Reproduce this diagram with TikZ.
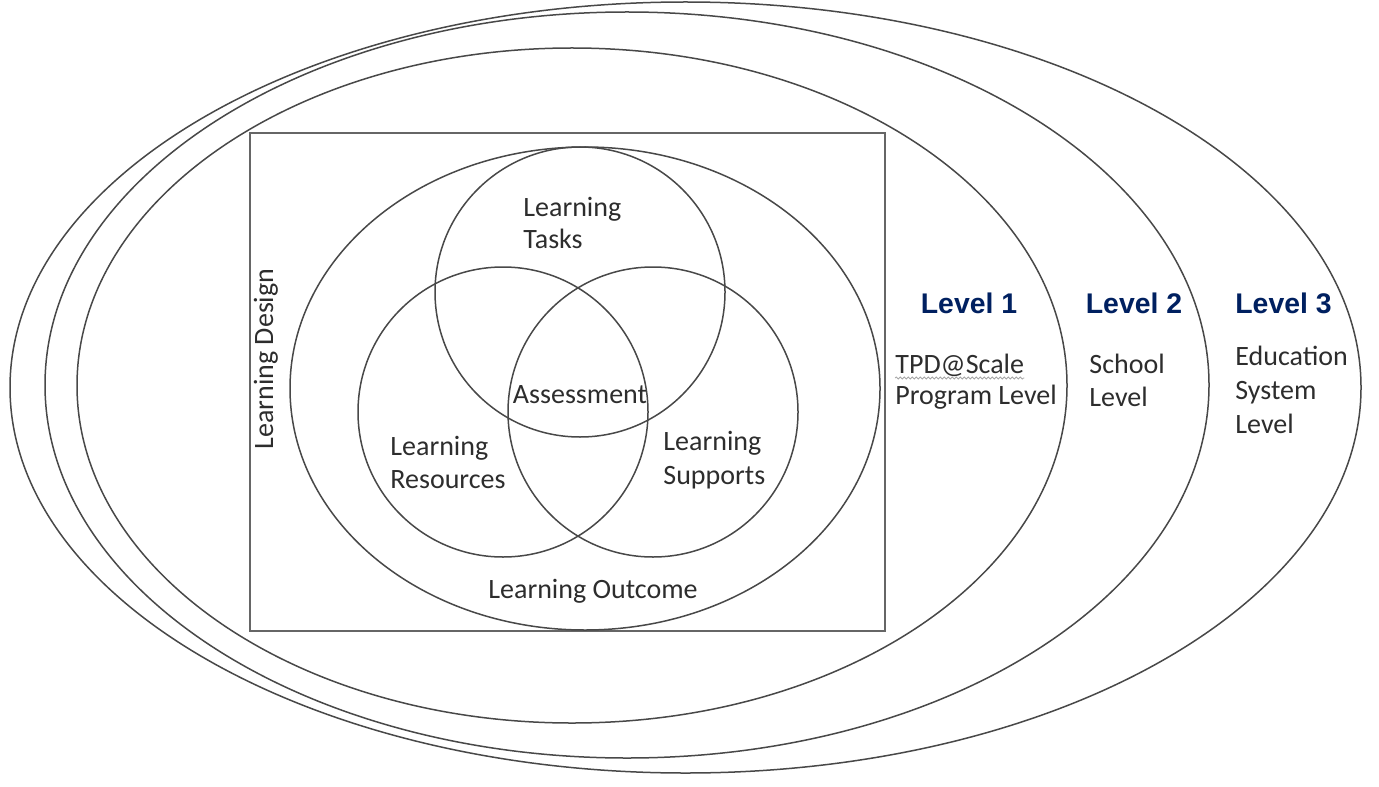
\documentclass[tikz,border=0pt]{standalone}
\usepackage{fontspec}
\setmainfont{Carlito}
\newfontfamily\arialfont{Liberation Sans}
\usetikzlibrary{decorations.pathmorphing}
\definecolor{lvlblue}{RGB}{0,32,96}
\definecolor{txtgray}{RGB}{45,45,45}
\definecolor{linegray}{RGB}{72,72,72}
\tikzset{
  ring/.style={draw=linegray, line width=0.75pt},
  frame/.style={draw=black!60, line width=1.05pt},
  lbl/.style={inner sep=0pt, text=txtgray, font=\fontsize{14}{16}\selectfont},
  lvl/.style={inner sep=0pt, text=lvlblue, font=\arialfont\bfseries\fontsize{14.2}{16}\selectfont, anchor=base},
}
\begin{document}
\begin{tikzpicture}[x=0.5pt, y=-0.5pt]
\useasboundingbox (0,0) rectangle (1379,786);
% level ellipses
\draw[ring] (685.5,387.5) ellipse [x radius=675.5, y radius=385.5];
\draw[ring] (627,385) ellipse [x radius=582, y radius=373];
\draw[ring] (572,385.5) ellipse [x radius=495, y radius=337.5];
% learning design frame
\draw[frame] (250,133) rectangle (885,631);
% learning outcome ellipse
\draw[ring] (585,388.5) ellipse [x radius=295, y radius=241.5];
% venn circles
\draw[ring] (580,292) circle [radius=145];
\draw[ring] (503,412) circle [radius=145];
\draw[ring] (653,412) circle [radius=145];
% venn labels
\node[lbl, anchor=base west] (lt1) at (523,217) {Learning};
\node[lbl, anchor=base west] (lt2) at (523,249) {Tasks};
\node[lbl, anchor=base] (as) at (580,403) {Assessment};
\node[lbl, anchor=base west] (lr1) at (390,455) {Learning};
\node[lbl, anchor=base west] (lr2) at (390,488) {Resources};
\node[lbl, anchor=base west] (ls1) at (663,450) {Learning};
\node[lbl, anchor=base west] (ls2) at (663,484) {Supports};
\node[lbl, anchor=base] (lo) at (593,598) {Learning Outcome};
\node[lbl, anchor=base, rotate=90] (ld) at (273,359) {Learning Design};
% level labels
\node[lvl] (l1) at (969,313) {Level 1};
\node[lvl] (l2) at (1134,313) {Level 2};
\node[lvl] (l3) at (1283.5,313) {Level 3};
\node[lbl, anchor=base west] (p1) at (895,373) {TPD@Scale};
\node[lbl, anchor=base west] (p2) at (895,404) {Program Level};
\node[lbl, anchor=base west] (s1) at (1089,373) {School};
\node[lbl, anchor=base west] (s2) at (1089,406) {Level};
\node[lbl, anchor=base west] (e1) at (1235,365) {Education};
\node[lbl, anchor=base west] (e2) at (1235,399) {System};
\node[lbl, anchor=base west] (e3) at (1235,433) {Level};
% spell-check squiggle under TPD@Scale
\coordinate (sq1) at ([yshift=-2.5pt]p1.base west);
\coordinate (sq2) at ([yshift=-2.5pt]p1.base east);
\draw[gray!70, line width=0.4pt, decorate, decoration={snake, amplitude=0.5pt, segment length=2pt}] (sq1) -- (sq2);
\end{tikzpicture}
\end{document}
